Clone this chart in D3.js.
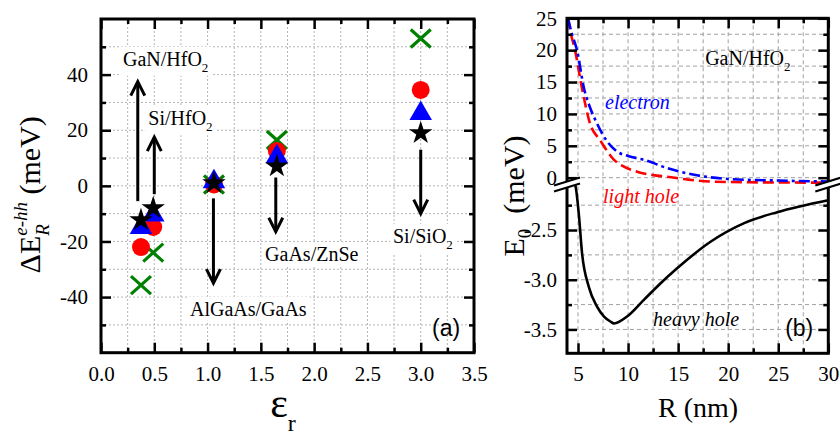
<!DOCTYPE html>
<html>
<head>
<meta charset="utf-8">
<script src="https://cdn.jsdelivr.net/npm/d3@7"></script>
<style>
  body { margin: 0; background: #fff; }
  svg { display: block; }
</style>
</head>
<body>
<div id="chart"></div>
<script>
// ---- panel (a) data ----
var materials = ["GaN/HfO", "Si/HfO", "AlGaAs/GaAs", "GaAs/ZnSe", "Si/SiO"];
var materialSub = ["2", "2", "", "", "2"];
var epsR = [0.375, 0.49, 1.06, 1.65, 3.0];
var crossVals  = [-35.7, -24, 0.5, 16.5, 53];
var circleVals = [-22, -14.8, 0.5, 12.5, 34.5];
var triVals    = [-15, -10.5, 1.5, 10.5, 26];
var starVals   = [-12.3, -8, 1, 7, 19];
// arrows: tail value -> head value
var arrowEps  = [0.345, 0.5, 1.055, 1.64, 3.0];
var arrowFrom = [-5.5, -3, -4.5, 3, 13];
var arrowTo   = [37.5, 17.5, -35, -16.5, -10];
var xTicksA = [0.0, 0.5, 1.0, 1.5, 2.0, 2.5, 3.0, 3.5];
var yTicksA = [-40, -20, 0, 20, 40];

// ---- panel (b) data ----
var elecR = [4.0, 4.4, 4.9, 5.6, 6.2, 6.9, 7.9, 8.9, 10, 11.6, 13.9, 16.6, 20, 25, 30];
var elecE = [25, 22.5, 20, 14, 11, 8.5, 5.7, 4.1, 3.4, 2.8, 1.5, 0.45, -0.2, -0.45, -0.6];
var lhR = [4.0, 4.3, 4.7, 5.4, 6.2, 7.2, 8.6, 9.5, 10.9, 12.5, 13.9, 16, 18.2, 22, 30];
var lhE = [25, 22.5, 20, 14, 8.5, 5.9, 2.8, 1.8, 0.94, 0.4, 0.15, -0.3, -0.6, -0.72, -0.78];
var hhR = [4.62, 4.75, 5.07, 5.4, 6.07, 6.9, 7.6, 8.23, 8.6, 9.9, 11.6, 13.2, 14.9, 18.2, 21.6, 24.9, 30];
var hhE = [-2.03, -2.06, -2.33, -2.73, -3.07, -3.27, -3.37, -3.42, -3.44, -3.37, -3.2, -3.04, -2.885, -2.62, -2.43, -2.32, -2.2];
var xTicksB = [5, 10, 15, 20, 25, 30];
var yTicksUp = [0, 5, 10, 15, 20, 25];
var yTicksLo = [-2.5, -3.0, -3.5];

var serif = "Liberation Serif, Tinos, Times New Roman, DejaVu Serif, serif";
var sans = "Liberation Sans, Arial, sans-serif";

var svg = d3.select("#chart").append("svg")
    .attr("width", 840)
    .attr("height", 436);

// text with optional subscript, white box behind if asked
function subText(g, x, y, main, sub, opt) {
    opt = opt || {};
    var size = opt.size || 20;
    var t = g.append("text")
        .attr("x", x).attr("y", y)
        .attr("text-anchor", opt.anchor || "start")
        .attr("font-family", opt.family || serif)
        .attr("font-size", size)
        .attr("font-style", opt.italic ? "italic" : "normal")
        .attr("fill", opt.color || "#000");
    t.append("tspan").text(main);
    if (sub) {
        t.append("tspan").attr("dy", size * 0.3).attr("font-size", size * 0.65).text(sub);
    }
    if (opt.box) {
        var bb = t.node().getBBox();
        g.insert("rect", function() { return t.node(); })
            .attr("x", bb.x - 3).attr("y", bb.y - 1)
            .attr("width", bb.width + 6).attr("height", bb.height + 2)
            .attr("fill", "#fff");
    }
    return t;
}

function styleAxis(g, labels) {
    g.attr("font-family", serif).attr("font-size", 21);
    g.select(".domain").remove();
    g.selectAll(".tick line").attr("stroke", "#000").attr("stroke-width", 2.5);
    g.selectAll(".tick text").attr("fill", "#000");
    if (!labels) g.selectAll(".tick text").remove();
}

// ================= panel (a) =================
var xA = d3.scaleLinear().domain([0, 3.5]).range([101, 474]);
var yA = d3.scaleLinear().domain([-60, 60]).range([352.7, 19]);
var ga = svg.append("g");

ga.selectAll(".vgridA")
    .data(d3.range(1, 14).map(function(d) { return d * 0.25; }))
    .enter().append("line")
    .attr("x1", function(d) { return xA(d); })
    .attr("x2", function(d) { return xA(d); })
    .attr("y1", yA(60)).attr("y2", yA(-60))
    .attr("stroke", "#b5b5b5").attr("stroke-width", 1)
    .attr("stroke-dasharray", "2,2");
ga.selectAll(".hgridA")
    .data(d3.range(-50, 60, 10))
    .enter().append("line")
    .attr("y1", function(d) { return yA(d); })
    .attr("y2", function(d) { return yA(d); })
    .attr("x1", xA(0)).attr("x2", xA(3.5))
    .attr("stroke", "#b5b5b5").attr("stroke-width", 1)
    .attr("stroke-dasharray", "2,2");

// material labels (white boxes hide the grid)
var labelPosA = [[0.206, 43.2], [0.444, 21.8], [0.835, -46.7], [1.54, -27], [2.74, -20.5]];
materials.forEach(function(m, i) {
    subText(ga, xA(labelPosA[i][0]), yA(labelPosA[i][1]), m, materialSub[i], {size: 20, box: true});
});
subText(ga, xA(3.37), yA(-54), "(a)", "", {size: 23, family: sans, anchor: "end"});

// axes
ga.append("g").attr("transform", "translate(0," + yA(-60) + ")")
    .call(d3.axisBottom(xA).tickValues(xTicksA).tickSize(-10).tickPadding(13).tickFormat(d3.format(".1f")))
    .call(styleAxis, true);
ga.append("g").attr("transform", "translate(0," + yA(-60) + ")")
    .call(d3.axisBottom(xA).tickValues(d3.range(0.25, 3.5, 0.5)).tickSize(-5).tickFormat(""))
    .call(styleAxis, false);
ga.append("g").attr("transform", "translate(0," + yA(60) + ")")
    .call(d3.axisTop(xA).tickValues(xTicksA).tickSize(-10).tickFormat(""))
    .call(styleAxis, false);
ga.append("g").attr("transform", "translate(0," + yA(60) + ")")
    .call(d3.axisTop(xA).tickValues(d3.range(0.25, 3.5, 0.5)).tickSize(-5).tickFormat(""))
    .call(styleAxis, false);
ga.append("g").attr("transform", "translate(" + xA(0) + ",0)")
    .call(d3.axisLeft(yA).tickValues(yTicksA).tickSize(-10).tickPadding(13).tickFormat(function(d) { return String(d); }))
    .call(styleAxis, true);
ga.append("g").attr("transform", "translate(" + xA(0) + ",0)")
    .call(d3.axisLeft(yA).tickValues(d3.range(-50, 60, 20)).tickSize(-5).tickFormat(""))
    .call(styleAxis, false);
ga.append("g").attr("transform", "translate(" + xA(3.5) + ",0)")
    .call(d3.axisRight(yA).tickValues(yTicksA).tickSize(-10).tickFormat(""))
    .call(styleAxis, false);
ga.append("g").attr("transform", "translate(" + xA(3.5) + ",0)")
    .call(d3.axisRight(yA).tickValues(d3.range(-50, 60, 20)).tickSize(-5).tickFormat(""))
    .call(styleAxis, false);

// arrows
arrowEps.forEach(function(e, i) {
    var x = xA(e), y1 = yA(arrowFrom[i]), y2 = yA(arrowTo[i]);
    var dir = y2 < y1 ? 1 : -1;
    ga.append("line")
        .attr("x1", x).attr("x2", x).attr("y1", y1).attr("y2", y2 + dir * 1)
        .attr("stroke", "#000").attr("stroke-width", 3);
    ga.append("path")
        .attr("d", "M" + (x - 7) + "," + (y2 + dir * 14) + "L" + x + "," + y2 + "L" + (x + 7) + "," + (y2 + dir * 14))
        .attr("fill", "none").attr("stroke", "#000").attr("stroke-width", 3);
});

// markers
ga.selectAll(".cross").data(crossVals).enter().append("path")
    .attr("transform", function(d, i) { return "translate(" + xA(epsR[i]) + "," + yA(d) + ")"; })
    .attr("d", "M-10,-9L10,9M-10,9L10,-9")
    .attr("fill", "none").attr("stroke", "#008000").attr("stroke-width", 3.2);
ga.selectAll(".circ").data(circleVals).enter().append("path")
    .attr("transform", function(d, i) { return "translate(" + xA(epsR[i]) + "," + yA(d) + ")"; })
    .attr("d", d3.symbol().type(d3.symbolCircle).size(254))
    .attr("fill", "#ff0000");
ga.selectAll(".tri").data(triVals).enter().append("path")
    .attr("transform", function(d, i) { return "translate(" + xA(epsR[i]) + "," + yA(d) + ")"; })
    .attr("d", d3.symbol().type(d3.symbolTriangle).size(220))
    .attr("fill", "#0000ff");
ga.selectAll(".star").data(starVals).enter().append("path")
    .attr("transform", function(d, i) { return "translate(" + xA(epsR[i]) + "," + yA(d) + ")"; })
    .attr("d", d3.symbol().type(d3.symbolStar).size(170))
    .attr("fill", "#000");

ga.append("rect")
    .attr("x", xA(0)).attr("y", yA(60))
    .attr("width", xA(3.5) - xA(0)).attr("height", yA(-60) - yA(60))
    .attr("fill", "none").attr("stroke", "#000").attr("stroke-width", 3);

// x title: epsilon_r
var xtA = ga.append("text").attr("x", 283).attr("y", 417)
    .attr("text-anchor", "middle").attr("font-family", serif).attr("fill", "#000");
xtA.append("tspan").attr("font-size", 42).text("\u03B5");
xtA.append("tspan").attr("dy", 14).attr("font-size", 24).text("r");

// y title rotated
function yTitle(parent, xBase, yCenter, pieces) {
    var g = parent.append("g");
    var t = g.append("text").attr("font-family", serif).attr("fill", "#000").attr("font-size", 30);
    pieces(t);
    var w = t.node().getComputedTextLength();
    g.attr("transform", "translate(" + xBase + "," + (yCenter + w / 2) + ") rotate(-90)");
    return g;
}
yTitle(ga, 40, 189, function(t) {
    t.append("tspan").text("\u0394E");
    var sup = t.append("tspan").attr("dy", -13).attr("font-size", 19).attr("font-style", "italic").text("e-hh");
    var supW = sup.node().getComputedTextLength();
    var sub = t.append("tspan").attr("dx", -supW).attr("dy", 22).attr("font-size", 19).attr("font-style", "italic").text("R");
    var subW = sub.node().getComputedTextLength();
    t.append("tspan").attr("dx", supW - subW).attr("dy", -9).text("\u00A0(meV)");
});

// ================= panel (b) =================
var xB = d3.scaleLinear().domain([3.9, 30]).range([567, 828.3]);
var yUp = d3.scaleLinear().domain([-0.85, 25]).range([183.1, 18.3]);
var yLo = d3.scaleLinear().domain([-3.74, -2.03]).range([353.3, 183.3]);
var yBreak = 184.5;
var gb = svg.append("g");

var defs = svg.append("defs");
defs.append("clipPath").attr("id", "clipUp").append("rect")
    .attr("x", xB(3.9)).attr("y", yUp(25)).attr("width", xB(30) - xB(3.9)).attr("height", yBreak - yUp(25));
defs.append("clipPath").attr("id", "clipLo").append("rect")
    .attr("x", xB(3.9)).attr("y", yBreak).attr("width", xB(30) - xB(3.9)).attr("height", yLo(-3.74) - yBreak);

// grid
gb.selectAll(".vgridB").data(d3.range(5, 30, 2.5)).enter().append("line")
    .attr("x1", function(d) { return xB(d); }).attr("x2", function(d) { return xB(d); })
    .attr("y1", yUp(25)).attr("y2", yLo(-3.74))
    .attr("stroke", "#a0a0a0").attr("stroke-width", 1).attr("stroke-dasharray", "4,3");
gb.selectAll(".hgridUp").data(d3.range(0, 25, 2.5)).enter().append("line")
    .attr("y1", function(d) { return yUp(d); }).attr("y2", function(d) { return yUp(d); })
    .attr("x1", xB(3.9)).attr("x2", xB(30))
    .attr("stroke", "#a0a0a0").attr("stroke-width", 1).attr("stroke-dasharray", "4,3");
gb.selectAll(".hgridLo").data([-2.25, -2.5, -2.75, -3.0, -3.25, -3.5]).enter().append("line")
    .attr("y1", function(d) { return yLo(d); }).attr("y2", function(d) { return yLo(d); })
    .attr("x1", xB(3.9)).attr("x2", xB(30))
    .attr("stroke", "#a0a0a0").attr("stroke-width", 1).attr("stroke-dasharray", "4,3");

subText(gb, xB(17.7), yUp(17.7), "GaN/HfO", "2", {size: 20});
subText(gb, xB(7.7), yUp(10.8), "electron", "", {size: 20, italic: true, color: "#0000ff"});
subText(gb, xB(7.5), yLo(-2.23), "light hole", "", {size: 20, italic: true, color: "#ff0000"});
subText(gb, xB(12.5), yLo(-3.47), "heavy hole", "", {size: 20, italic: true});
subText(gb, xB(28.5), yLo(-3.57), "(b)", "", {size: 23, family: sans, anchor: "end"});

// curves
var lineUp = d3.line().curve(d3.curveMonotoneX)
    .x(function(d) { return xB(d[0]); }).y(function(d) { return yUp(d[1]); });
var lineLo = d3.line().curve(d3.curveMonotoneX)
    .x(function(d) { return xB(d[0]); }).y(function(d) { return yLo(d[1]); });

gb.append("path").attr("clip-path", "url(#clipUp)")
    .attr("d", lineUp(d3.zip(lhR, lhE)))
    .attr("fill", "none").attr("stroke", "#ff0000").attr("stroke-width", 2.6)
    .attr("stroke-dasharray", "11,5");
gb.append("path").attr("clip-path", "url(#clipUp)")
    .attr("d", lineUp(d3.zip(elecR, elecE)))
    .attr("fill", "none").attr("stroke", "#0000ff").attr("stroke-width", 2.6)
    .attr("stroke-dasharray", "11,4,3,4");
gb.append("path").attr("clip-path", "url(#clipLo)")
    .attr("d", lineLo(d3.zip(hhR, hhE)))
    .attr("fill", "none").attr("stroke", "#000").attr("stroke-width", 2.6);

// axes (b)
gb.append("g").attr("transform", "translate(0," + yLo(-3.74) + ")")
    .call(d3.axisBottom(xB).tickValues(xTicksB).tickSize(-10).tickPadding(13))
    .call(styleAxis, true);
gb.append("g").attr("transform", "translate(0," + yLo(-3.74) + ")")
    .call(d3.axisBottom(xB).tickValues(d3.range(7.5, 30, 5)).tickSize(-5).tickFormat(""))
    .call(styleAxis, false);
gb.append("g").attr("transform", "translate(0," + yUp(25) + ")")
    .call(d3.axisTop(xB).tickValues(xTicksB).tickSize(-10).tickFormat(""))
    .call(styleAxis, false);
gb.append("g").attr("transform", "translate(0," + yUp(25) + ")")
    .call(d3.axisTop(xB).tickValues(d3.range(7.5, 30, 5)).tickSize(-5).tickFormat(""))
    .call(styleAxis, false);

[[yUp, yTicksUp, d3.range(2.5, 25, 5), function(d) { return String(d); }],
 [yLo, yTicksLo, [-2.25, -2.75, -3.25], function(d) { return d.toFixed(1); }]].forEach(function(s) {
    gb.append("g").attr("transform", "translate(" + xB(3.9) + ",0)")
        .call(d3.axisLeft(s[0]).tickValues(s[1]).tickSize(-10).tickPadding(10).tickFormat(s[3]))
        .call(styleAxis, true);
    gb.append("g").attr("transform", "translate(" + xB(3.9) + ",0)")
        .call(d3.axisLeft(s[0]).tickValues(s[2]).tickSize(-5).tickFormat(""))
        .call(styleAxis, false);
    gb.append("g").attr("transform", "translate(" + xB(30) + ",0)")
        .call(d3.axisRight(s[0]).tickValues(s[1]).tickSize(-10).tickFormat(""))
        .call(styleAxis, false);
    gb.append("g").attr("transform", "translate(" + xB(30) + ",0)")
        .call(d3.axisRight(s[0]).tickValues(s[2]).tickSize(-5).tickFormat(""))
        .call(styleAxis, false);
});

gb.append("rect")
    .attr("x", xB(3.9)).attr("y", yUp(25))
    .attr("width", xB(30) - xB(3.9)).attr("height", yLo(-3.74) - yUp(25))
    .attr("fill", "none").attr("stroke", "#000").attr("stroke-width", 3);

// axis break marks
[xB(3.9), xB(30)].forEach(function(x) {
    var a = yBreak - 3, b = yBreak + 3;
    gb.append("path")
        .attr("d", "M" + (x - 13) + "," + (a + 4) + "L" + (x + 13) + "," + (a - 4) +
                   "L" + (x + 13) + "," + (b - 4) + "L" + (x - 13) + "," + (b + 4) + "Z")
        .attr("fill", "#fff");
    [a, b].forEach(function(y) {
        gb.append("line")
            .attr("x1", x - 13).attr("y1", y + 4).attr("x2", x + 13).attr("y2", y - 4)
            .attr("stroke", "#000").attr("stroke-width", 2.2);
    });
});

gb.append("text").attr("x", xB(17)).attr("y", 417)
    .attr("text-anchor", "middle").attr("font-family", serif).attr("font-size", 28)
    .attr("fill", "#000").text("R (nm)");

yTitle(gb, 524, 196, function(t) {
    t.append("tspan").text("E");
    t.append("tspan").attr("dy", 7).attr("font-size", 19).text("0");
    t.append("tspan").attr("dy", -7).text("\u00A0\u00A0(meV)");
});
</script>
</body>
</html>
